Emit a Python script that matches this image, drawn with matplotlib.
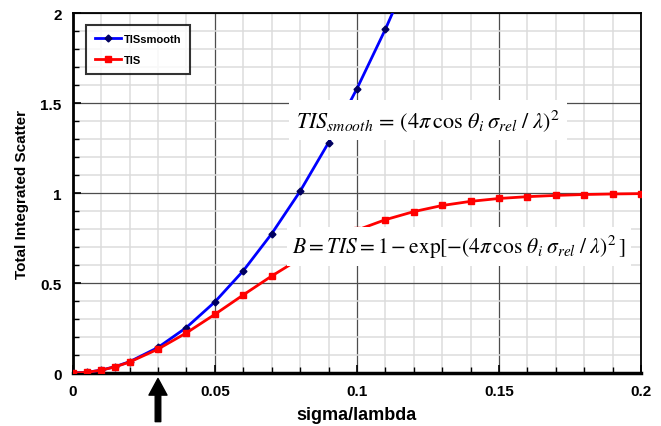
import matplotlib
matplotlib.use('Agg')
from matplotlib import pyplot as plt
from matplotlib.ticker import MultipleLocator

# sigma/lambda sample points
x_smooth = [0, 0.005, 0.01, 0.015, 0.02, 0.03, 0.04, 0.05, 0.06, 0.07, 0.08, 0.09, 0.1, 0.11, 0.12]
tis_smooth = [0, 0.004, 0.016, 0.036, 0.063, 0.142, 0.253, 0.395, 0.568, 0.774, 1.01, 1.28, 1.58, 1.91, 2.27]

x_tis = [0, 0.005, 0.01, 0.015, 0.02, 0.03, 0.04, 0.05, 0.06, 0.07, 0.08, 0.09, 0.1,
         0.11, 0.12, 0.13, 0.14, 0.15, 0.16, 0.17, 0.18, 0.19, 0.2]
tis = [0, 0.004, 0.016, 0.035, 0.061, 0.133, 0.223, 0.326, 0.434, 0.539, 0.636, 0.721, 0.794,
       0.852, 0.897, 0.931, 0.954, 0.970, 0.980, 0.987, 0.992, 0.995, 0.997]

x_ticks = [0, 0.05, 0.1, 0.15, 0.2]
x_ticklabels = ['0', '0.05', '0.1', '0.15', '0.2']
y_ticks = [0, 0.5, 1, 1.5, 2]
y_ticklabels = ['0', '0.5', '1', '1.5', '2']

plt.rcParams['font.family'] = ['Liberation Sans', 'DejaVu Sans']
plt.rcParams['mathtext.fontset'] = 'stix'


def main():
    fig = plt.figure(figsize=(6.61, 4.27), dpi=100)
    ax = fig.add_axes([0.110, 0.124, 0.860, 0.843])

    ax.plot(x_smooth, tis_smooth, color='#0000ff', lw=2, marker='D', ms=3.5,
            mfc='#000060', mec='#000060', label='TISsmooth', zorder=3)
    ax.plot(x_tis, tis, color='#ff0000', lw=2, marker='s', ms=5,
            mfc='#ff0000', mec='#ff0000', label='TIS', zorder=4)

    ax.set_xlim(0, 0.2)
    ax.set_ylim(0, 2)
    ax.set_xticks(x_ticks)
    ax.set_xticklabels(x_ticklabels)
    ax.set_yticks(y_ticks)
    ax.set_yticklabels(y_ticklabels)
    ax.xaxis.set_minor_locator(MultipleLocator(0.01))
    ax.yaxis.set_minor_locator(MultipleLocator(0.1))

    ax.grid(which='major', color='#4d4d4d', lw=0.9, zorder=0)
    ax.grid(which='minor', color='#dcdcdc', lw=1.1, zorder=0)
    ax.set_axisbelow(True)

    ax.tick_params(which='both', direction='in', top=False, right=False)
    ax.tick_params(which='major', length=6, width=1.2, labelsize=11, pad=8)
    ax.tick_params(which='minor', length=4, width=1.0)
    for lab in ax.get_xticklabels() + ax.get_yticklabels():
        lab.set_fontweight('bold')

    ax.spines['left'].set_linewidth(2)
    ax.spines['bottom'].set_linewidth(2.5)
    ax.spines['top'].set_linewidth(1.3)
    ax.spines['right'].set_linewidth(1.3)

    ax.set_xlabel('sigma/lambda', fontsize=13, fontweight='bold', labelpad=6)
    ax.set_ylabel('Total Integrated Scatter', fontsize=11, fontweight='bold', labelpad=8)

    leg = ax.legend(loc='upper left', bbox_to_anchor=(0.023, 0.967),
                    prop={'weight': 'bold', 'size': 8}, frameon=True, fancybox=False,
                    handlelength=2.4, handletextpad=0.2, labelspacing=1.0,
                    borderpad=0.8, borderaxespad=0)
    leg.get_frame().set_edgecolor('black')
    leg.get_frame().set_linewidth(1.5)
    leg.set_zorder(6)

    ax.text(0.0786, 1.367, r'$TIS_{smooth}\,=\,(4\pi\,\cos\,\theta_i\;\sigma_{rel}\;/\;\lambda)^2$',
            fontsize=16, zorder=5,
            bbox=dict(facecolor='white', edgecolor='none', pad=5))
    ax.text(0.0773, 0.667, r'$B=TIS=1-\exp[-(4\pi\,\cos\,\theta_i\;\sigma_{rel}\;/\;\lambda)^2\,]$',
            fontsize=15.5, zorder=5,
            bbox=dict(facecolor='white', edgecolor='none', pad=4))

    ax.annotate('', xy=(0.03, -0.03), xytext=(0.03, -0.27), xycoords='data',
                annotation_clip=False,
                arrowprops=dict(facecolor='black', edgecolor='black', width=4,
                                headwidth=13, headlength=12, shrink=0))

    plt.savefig('out.png', dpi=100)


if __name__ == "__main__":
    main()
